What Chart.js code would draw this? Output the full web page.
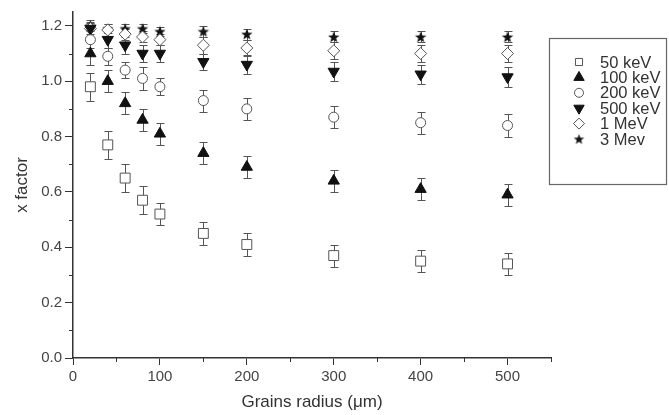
<!DOCTYPE html>
<html>
<head>
<meta charset="utf-8">
<script src="https://cdn.jsdelivr.net/npm/chart.js@4.4.1/dist/chart.umd.min.js"></script>
<style>
  html, body { margin: 0; padding: 0; background: #fff; }
  #wrap { width: 669px; height: 415px; }
</style>
</head>
<body>
<div id="wrap"><canvas id="c" width="669" height="415"></canvas></div>
<script>
// Grain radius (µm) at which each energy was evaluated
const radii = [20, 40, 60, 80, 100, 150, 200, 300, 400, 500];

// x factor per photon energy
const kev50  = [0.98, 0.77, 0.65, 0.57, 0.52, 0.45, 0.41, 0.37, 0.35, 0.34];
const kev100 = [1.10, 1.00, 0.92, 0.86, 0.81, 0.74, 0.69, 0.64, 0.61, 0.59];
const kev200 = [1.15, 1.09, 1.04, 1.01, 0.98, 0.93, 0.90, 0.87, 0.85, 0.84];
const kev500 = [1.19, 1.15, 1.13, 1.10, 1.10, 1.07, 1.06, 1.035, 1.025, 1.015];
const mev1   = [1.19, 1.185, 1.17, 1.16, 1.15, 1.13, 1.12, 1.11, 1.10, 1.10];
const mev3   = [1.20, 1.19, 1.19, 1.19, 1.18, 1.18, 1.17, 1.16, 1.16, 1.16];

// Uncertainties (±)
const err50  = [0.05, 0.05, 0.05, 0.05, 0.04, 0.04, 0.04, 0.04, 0.04, 0.04];
const err100 = [0.04, 0.04, 0.04, 0.04, 0.04, 0.04, 0.04, 0.04, 0.04, 0.04];
const err200 = [0.03, 0.03, 0.03, 0.04, 0.03, 0.04, 0.04, 0.04, 0.04, 0.04];
const err500 = [0.03, 0.03, 0.03, 0.03, 0.03, 0.03, 0.035, 0.035, 0.035, 0.035];
const err1M  = [0.02, 0.02, 0.02, 0.02, 0.02, 0.03, 0.03, 0.03, 0.03, 0.03];
const err3M  = [0.015, 0.015, 0.015, 0.015, 0.015, 0.02, 0.02, 0.02, 0.02, 0.02];

const seriesLabels = ['50 keV', '100 keV', '200 keV', '500 keV', '1 MeV', '3 Mev'];

// Axis ticks
const xMajor = [0, 100, 200, 300, 400, 500];
const xMinor = [50, 150, 250, 350, 450, 550];
const yMajor = [0.0, 0.2, 0.4, 0.6, 0.8, 1.0, 1.2];
const yMinor = [0.1, 0.3, 0.5, 0.7, 0.9, 1.1];

const INK = '#111';
const GREY = '#555';

// Filled five-point star used as a point style
function starImage(outer, color) {
  const size = Math.ceil(outer * 2 + 2);
  const c = document.createElement('canvas');
  c.width = size; c.height = size;
  const g = c.getContext('2d');
  const cx = size / 2, cy = size / 2 + 0.5, inner = outer * 0.42;
  g.beginPath();
  for (let k = 0; k < 10; k++) {
    const r = k % 2 === 0 ? outer : inner;
    const a = -Math.PI / 2 + k * Math.PI / 5;
    const px = cx + r * Math.cos(a), py = cy + r * Math.sin(a);
    if (k === 0) g.moveTo(px, py); else g.lineTo(px, py);
  }
  g.closePath();
  g.fillStyle = color;
  g.fill();
  return c;
}
const star = starImage(6, INK);
const smallStar = starImage(5.5, INK);

function points(vals) {
  return radii.map((r, i) => ({ x: r, y: vals[i] }));
}

const datasets = [
  { label: seriesLabels[0], data: points(kev50),  errors: err50,  pointStyle: 'rect',     pointRadius: 7,   pointRotation: 0,   backgroundColor: '#fff', borderColor: GREY, borderWidth: 1 },
  { label: seriesLabels[1], data: points(kev100), errors: err100, pointStyle: 'triangle', pointRadius: 6.5, pointRotation: 0,   backgroundColor: INK,    borderColor: INK,  borderWidth: 1 },
  { label: seriesLabels[2], data: points(kev200), errors: err200, pointStyle: 'circle',   pointRadius: 5,   pointRotation: 0,   backgroundColor: '#fff', borderColor: GREY, borderWidth: 1 },
  { label: seriesLabels[3], data: points(kev500), errors: err500, pointStyle: 'triangle', pointRadius: 6.5, pointRotation: 180, backgroundColor: INK,    borderColor: INK,  borderWidth: 1 },
  { label: seriesLabels[4], data: points(mev1),   errors: err1M,  pointStyle: 'rectRot',  pointRadius: 6,   pointRotation: 0,   backgroundColor: '#fff', borderColor: GREY, borderWidth: 1 },
  { label: seriesLabels[5], data: points(mev3),   errors: err3M,  pointStyle: star,       pointRadius: 6,   pointRotation: 0,   backgroundColor: INK,    borderColor: INK,  borderWidth: 0 }
];
datasets.forEach(d => { d.pointHoverRadius = d.pointRadius; d.pointBorderWidth = d.borderWidth; });

// Legend marker sizes
const legendRadius = [5, 6, 4.5, 6, 5.5, 5.5];

// Vertical error bars with caps, drawn beneath the markers
const errorBars = {
  id: 'errorBars',
  beforeDatasetsDraw(chart) {
    const { ctx, scales: { x, y } } = chart;
    ctx.save();
    ctx.strokeStyle = GREY;
    ctx.lineWidth = 1;
    chart.data.datasets.forEach(ds => {
      ds.data.forEach((p, i) => {
        const e = ds.errors[i];
        const px = Math.round(x.getPixelForValue(p.x)) + 0.5;
        const top = Math.round(y.getPixelForValue(p.y + e)) + 0.5;
        const bot = Math.round(y.getPixelForValue(p.y - e)) + 0.5;
        ctx.beginPath();
        ctx.moveTo(px, top); ctx.lineTo(px, bot);
        ctx.moveTo(px - 4, top); ctx.lineTo(px + 4, top);
        ctx.moveTo(px - 4, bot); ctx.lineTo(px + 4, bot);
        ctx.stroke();
      });
    });
    ctx.restore();
  }
};

// Short minor ticks between the labelled ones
const minorTicks = {
  id: 'minorTicks',
  afterDraw(chart) {
    const { ctx, scales: { x, y } } = chart;
    ctx.save();
    ctx.strokeStyle = '#333';
    ctx.lineWidth = 1;
    ctx.beginPath();
    xMinor.forEach(v => {
      const px = Math.round(x.getPixelForValue(v)) + 0.5;
      ctx.moveTo(px, y.bottom); ctx.lineTo(px, y.bottom + 4);
    });
    yMinor.forEach(v => {
      const py = Math.round(y.getPixelForValue(v)) + 0.5;
      ctx.moveTo(x.left, py); ctx.lineTo(x.left - 4, py);
    });
    ctx.stroke();
    ctx.restore();
  }
};

// Boxed legend to the right of the plot
const boxedLegend = {
  id: 'boxedLegend',
  afterDraw(chart) {
    const { ctx } = chart;
    const box = { left: 549.5, top: 38.5, width: 117, height: 146 };
    ctx.save();
    ctx.strokeStyle = '#666';
    ctx.lineWidth = 1.2;
    ctx.strokeRect(box.left, box.top, box.width, box.height);
    ctx.font = '16.5px "Liberation Sans", Arial, sans-serif';
    ctx.textBaseline = 'middle';
    ctx.textAlign = 'left';
    chart.data.datasets.forEach((ds, i) => {
      const cy = 62 + i * 15.4;
      const cx = 579;
      ctx.fillStyle = ds.backgroundColor;
      ctx.strokeStyle = ds.borderColor;
      ctx.lineWidth = 1;
      Chart.helpers.drawPoint(ctx, {
        pointStyle: typeof ds.pointStyle === 'string' ? ds.pointStyle : smallStar,
        rotation: ds.pointRotation,
        radius: legendRadius[i],
        borderWidth: ds.borderWidth
      }, cx, cy);
      ctx.fillStyle = '#333';
      ctx.fillText(ds.label, 600, cy + 1);
    });
    ctx.restore();
  }
};

const tickFont = { family: '"Liberation Sans", Arial, sans-serif', size: 15 };
const titleFont = { family: '"Liberation Sans", Arial, sans-serif', size: 17 };

new Chart(document.getElementById('c'), {
  type: 'scatter',
  data: { datasets },
  options: {
    responsive: false,
    animation: false,
    events: [],
    layout: { padding: { left: 0, right: 118, top: 7, bottom: 0 } },
    plugins: { legend: { display: false }, tooltip: { enabled: false } },
    scales: {
      x: {
        type: 'linear',
        min: 0, max: 550,
        afterBuildTicks: s => { s.ticks = xMajor.map(v => ({ value: v })); },
        afterFit: s => { s.height = 57; },
        border: { display: true, color: '#333', width: 1.5 },
        grid: { display: true, drawOnChartArea: false, drawTicks: true, tickLength: 7, tickColor: '#333', tickWidth: 1 },
        ticks: { color: '#444', font: tickFont, padding: 3, maxRotation: 0, callback: v => String(v) },
        title: { display: true, text: 'Grains radius (μm)', color: '#333', font: titleFont, padding: { top: 0, bottom: 2 } }
      },
      y: {
        type: 'linear',
        min: 0, max: 1.25,
        afterBuildTicks: s => { s.ticks = yMajor.map(v => ({ value: v })); },
        afterFit: s => { s.width = 73; },
        border: { display: true, color: '#333', width: 1.5 },
        grid: { display: true, drawOnChartArea: false, drawTicks: true, tickLength: 8, tickColor: '#333', tickWidth: 1 },
        ticks: { color: '#444', font: tickFont, padding: 3, callback: v => Number(v).toFixed(1) },
        title: { display: true, text: 'x factor', color: '#333', font: titleFont, padding: { top: 12, bottom: 0 } }
      }
    }
  },
  plugins: [errorBars, minorTicks, boxedLegend]
});
</script>
</body>
</html>
